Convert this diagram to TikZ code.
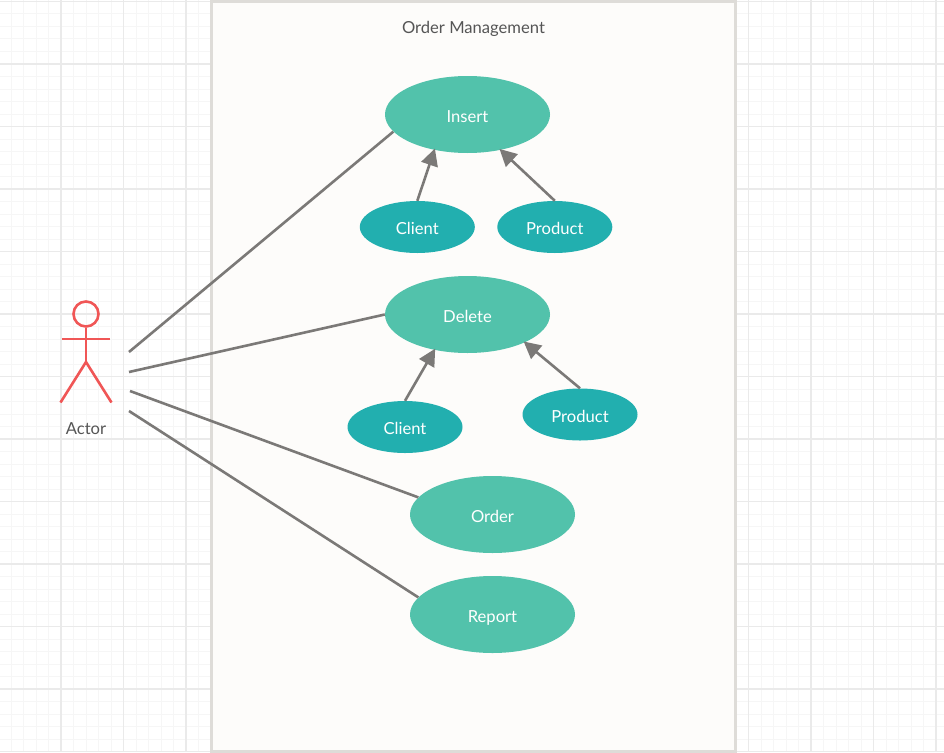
\documentclass[tikz,border=0pt]{standalone}
\usepackage{fontspec}
\setmainfont{Lato}
\usetikzlibrary{arrows.meta,shapes.geometric}
\definecolor{minorgrid}{HTML}{F6F6F6}
\definecolor{majorgrid}{HTML}{EAEAEA}
\definecolor{sysfill}{HTML}{FDFCFA}
\definecolor{sysline}{HTML}{DEDCD8}
\definecolor{big}{HTML}{52C2AB}
\definecolor{small}{HTML}{22AFAF}
\definecolor{link}{HTML}{7B7977}
\definecolor{actorc}{HTML}{F05656}
\definecolor{txt}{HTML}{555555}
\tikzset{
  casetext/.style={text height=15pt,text depth=0pt,inner sep=0pt,font=\fontsize{16.6}{20}\selectfont},
  bigcase/.style={ellipse,fill=big,text=white,casetext,minimum width=165pt,minimum height=77pt},
  smallcase/.style={ellipse,fill=small,text=white,casetext,minimum width=115pt,minimum height=52pt},
  assoc/.style={draw=link,line width=2.6pt},
  incl/.style={draw=link,line width=2.6pt,shorten >=-1.5pt,-{Triangle[length=17pt,width=17pt]}},
  actorline/.style={draw=actorc,line width=2.6pt},
  label/.style={text=txt,casetext},
}
\begin{document}
\begin{tikzpicture}[x=1pt,y=-1pt]
\useasboundingbox (0,0) rectangle (944,752);
\fill[white] (0,0) rectangle (944,752);
% grid
\foreach \k in {-4,...,75} {
  \draw[minorgrid,line width=1pt] ({11+12.5*\k},0) -- ({11+12.5*\k},752);
  \draw[minorgrid,line width=1pt] (0,{1.5+12.5*\k}) -- (944,{1.5+12.5*\k});
}
\foreach \k in {-1,...,14} {
  \draw[majorgrid,line width=1.4pt] ({61+62.5*\k},0) -- ({61+62.5*\k},752);
  \draw[majorgrid,line width=1.4pt] (0,{1.5+62.5*\k}) -- (944,{1.5+62.5*\k});
}
% system boundary
\draw[draw=sysline,fill=sysfill,line width=3pt] (211,2) rectangle (735.5,751);
\node[label] (title) at (473.5,26.5) {Order Management};
% use cases
\node[bigcase] (insert) at (467.5,114.5) {Insert};
\node[bigcase] (delete) at (467.5,314.5) {Delete};
\node[bigcase] (order) at (492.5,514.5) {Order};
\node[bigcase] (report) at (492.5,614.5) {Report};
\node[smallcase] (client1) at (417.3,227) {Client};
\node[smallcase] (product1) at (554.8,227) {Product};
\node[smallcase] (client2) at (405,427) {Client};
\node[smallcase] (product2) at (580,414.5) {Product};
% actor
\node[circle,draw=actorc,line width=2.6pt,minimum size=25pt,inner sep=0pt] (head) at (86,314) {};
\coordinate (hip) at (86,362);
\coordinate (armL) at (62,339);
\coordinate (armR) at (110,339);
\coordinate (footL) at (60.5,402.5);
\coordinate (footR) at (111.5,402.5);
\draw[actorline] (head.south) -- (hip);
\draw[actorline] (armL) -- (armR);
\draw[actorline] (footL) -- (hip) -- (footR);
\node[label] (actor) at (86,426.5) {Actor};
% association ends
\coordinate (a1) at (129,352);
\coordinate (a2) at (129,372);
\coordinate (a3) at (130,391);
\coordinate (a4) at (129,411);
\draw[assoc] (a1) -- (insert.193);
\draw[assoc] (a2) -- (delete.180);
\draw[assoc] (a3) -- (order.167);
\draw[assoc] (a4) -- (report.167);
% include arrows
\draw[incl] (client1.north) -- (insert.227);
\draw[incl] (product1.north) -- (insert.313);
\draw[incl] (client2.north) -- (delete.227.5);
\draw[incl] (product2.north) -- (delete.334);
\end{tikzpicture}
\end{document}
